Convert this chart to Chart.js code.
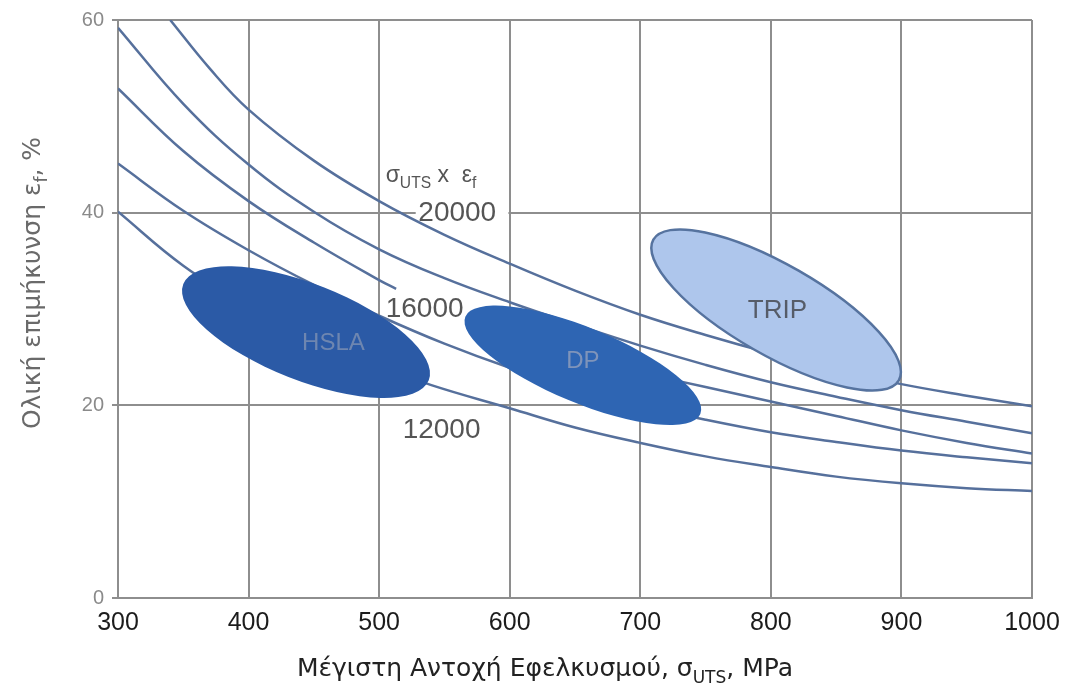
<!DOCTYPE html>
<html lang="el">
<head>
<meta charset="UTF-8">
<title>Ολική επιμήκυνση - Μέγιστη Αντοχή</title>
<script src="https://cdn.jsdelivr.net/npm/chart.js"></script>
<style>
  body { margin: 0; background: #fff; }
</style>
</head>
<body>
<canvas id="chart" width="1074" height="697"></canvas>
<script>
// axes
const xTicks = [300, 400, 500, 600, 700, 800, 900, 1000];
const yTicks = [0, 20, 40, 60];

// lines of constant sUTS x ef (MPa, %)
const uts20000 = [340, 370, 400, 450, 500, 550, 600, 650, 700, 750, 800, 850, 900, 950, 1000];
const elong20000 = [60, 55.0, 50.7, 45.4, 41.2, 37.7, 34.7, 31.9, 29.4, 27.3, 25.4, 23.7, 22.2, 21.0, 19.9];

const uts18000 = [300, 350, 400, 450, 500, 550, 600, 650, 700, 750, 800, 850, 900, 950, 1000];
const elong18000 = [59.2, 51.3, 45.0, 40.1, 36.2, 33.2, 30.7, 28.4, 26.2, 24.2, 22.4, 20.9, 19.5, 18.3, 17.1];

// broken where the "16000" label sits
const uts16000 = [300, 350, 400, 450, 500, 513, 540, 575, 600, 650, 700, 750, 800, 850, 900, 950, 1000];
const elong16000 = [52.9, 46.4, 41.2, 36.9, 33.0, 32.1, null, 28.3, 27.0, 25.0, 23.4, 21.9, 20.4, 18.9, 17.4, 16.1, 15.0];

const uts14000 = [300, 350, 400, 450, 500, 550, 600, 650, 700, 750, 800, 850, 900, 950, 1000];
const elong14000 = [45.1, 40.2, 36.1, 32.5, 29.3, 26.4, 23.9, 21.8, 20.0, 18.5, 17.2, 16.2, 15.3, 14.6, 14.0];

const uts12000 = [300, 350, 400, 450, 500, 540, 600, 650, 700, 750, 800, 850, 900, 950, 1000];
const elong12000 = [40.1, 34.5, 30.3, 26.9, 24.1, 22.1, 19.7, 17.7, 16.1, 14.7, 13.6, 12.6, 11.9, 11.4, 11.1];

// steel families: ends of the long axis of each area and its half thickness (%)
const steelNames = ['HSLA', 'DP', 'TRIP'];
const steelUtsFrom = [350, 566, 710];
const steelElongFrom = [32.6, 29.2, 37.2];
const steelUtsTo = [538, 746, 898];
const steelElongTo = [22.6, 19.1, 22.6];
const steelHalfWidth = [5.0, 3.9, 4.7];

const lineColor = '#56709c';
const gridColor = '#8e8e8e';

function pts(xs, ys) {
    return xs.map(function (x, i) { return { x: x, y: ys[i] }; });
}

function curve(xs, ys) {
    return {
        data: pts(xs, ys),
        borderColor: lineColor,
        borderWidth: 2.5,
        pointRadius: 0,
        fill: false,
        spanGaps: false,
        tension: 0.4
    };
}

// text with subscripts, parts = [[text, isSub], ...]
function richText(ctx, parts, x, y, size, family, color, align) {
    var w = 0;
    parts.forEach(function (p) {
        ctx.font = (p[1] ? size * 0.68 : size) + 'px ' + family;
        w += ctx.measureText(p[0]).width;
    });
    var cx = align === 'center' ? x - w / 2 : (align === 'right' ? x - w : x);
    ctx.textAlign = 'left';
    ctx.textBaseline = 'alphabetic';
    ctx.fillStyle = color;
    parts.forEach(function (p) {
        var s = p[1] ? size * 0.68 : size;
        ctx.font = s + 'px ' + family;
        ctx.fillText(p[0], cx, y + (p[1] ? size * 0.28 : 0));
        cx += ctx.measureText(p[0]).width;
    });
}

const steelColors = ['#2b5aa6', '#2e65b3', '#aec6ec'];
const steelTextColors = ['#6e86b0', '#7f94ba', '#565c68'];
// where the names are written (data coords)
const steelTextAt = [[465, 26.4], [656, 24.6], [805, 29.8]];

const steelAreas = {
    id: 'steelAreas',
    beforeDatasetsDraw: function (chart) {
        // white box behind "20000" hides the grid line there
        var ctx = chart.ctx, xs = chart.scales.x, ys = chart.scales.y;
        ctx.save();
        ctx.fillStyle = '#ffffff';
        ctx.fillRect(xs.getPixelForValue(528), ys.getPixelForValue(40) - 3, xs.getPixelForValue(599) - xs.getPixelForValue(528), 6);
        ctx.restore();
    },
    afterDatasetsDraw: function (chart) {
        var ctx = chart.ctx, xs = chart.scales.x, ys = chart.scales.y;
        var area = chart.chartArea;
        ctx.save();
        ctx.beginPath();
        ctx.rect(area.left, area.top, area.right - area.left, area.bottom - area.top);
        ctx.clip();
        for (var i = 0; i < steelNames.length; i++) {
            var x1 = xs.getPixelForValue(steelUtsFrom[i]), y1 = ys.getPixelForValue(steelElongFrom[i]);
            var x2 = xs.getPixelForValue(steelUtsTo[i]), y2 = ys.getPixelForValue(steelElongTo[i]);
            var a = Math.hypot(x2 - x1, y2 - y1) / 2;
            var b = ys.getPixelForValue(0) - ys.getPixelForValue(steelHalfWidth[i]);
            ctx.beginPath();
            ctx.ellipse((x1 + x2) / 2, (y1 + y2) / 2, a, b, Math.atan2(y2 - y1, x2 - x1), 0, Math.PI * 2);
            ctx.fillStyle = steelColors[i];
            ctx.fill();
            if (steelNames[i] === 'TRIP') {
                ctx.strokeStyle = '#56739f';
                ctx.lineWidth = 2.5;
                ctx.stroke();
            }
        }
        ctx.restore();

        ctx.save();
        ctx.textAlign = 'center';
        ctx.textBaseline = 'middle';
        for (var j = 0; j < steelNames.length; j++) {
            ctx.font = (j === 2 ? 26 : 24) + 'px "Liberation Sans", Arial, sans-serif';
            ctx.fillStyle = steelTextColors[j];
            ctx.fillText(steelNames[j], xs.getPixelForValue(steelTextAt[j][0]), ys.getPixelForValue(steelTextAt[j][1]));
        }
        ctx.restore();
    }
};

const curveTexts = ['20000', '16000', '12000'];
const curveTextAt = [[530, 40], [505, 30.1], [518, 17.5]];

const notes = {
    id: 'notes',
    afterDraw: function (chart) {
        var ctx = chart.ctx, xs = chart.scales.x, ys = chart.scales.y;
        var fam = '"Liberation Sans", Arial, sans-serif';
        ctx.save();
        ctx.textAlign = 'left';
        ctx.textBaseline = 'middle';
        ctx.fillStyle = '#555555';
        ctx.font = '28px ' + fam;
        for (var i = 0; i < curveTexts.length; i++) {
            ctx.fillText(curveTexts[i], xs.getPixelForValue(curveTextAt[i][0]), ys.getPixelForValue(curveTextAt[i][1]) + 1);
        }
        // sUTS x ef
        richText(ctx, [['σ', false], ['UTS', true], [' x  ε', false], ['f', true]],
            xs.getPixelForValue(505), ys.getPixelForValue(43.2), 23, fam, '#555555', 'left');

        // axis titles
        richText(ctx, [['Μέγιστη Αντοχή Εφελκυσμού, σ', false], ['UTS', true], [', MPa', false]],
            545, 676, 25, '"DejaVu Sans", sans-serif', '#222222', 'center');
        ctx.translate(40, 283);
        ctx.rotate(-Math.PI / 2);
        richText(ctx, [['Ολική επιμήκυνση ε', false], ['f', true], [', %', false]],
            0, 0, 25, '"DejaVu Sans", sans-serif', '#6a6a6a', 'center');
        ctx.restore();
    }
};

new Chart(document.getElementById('chart'), {
    type: 'line',
    data: {
        datasets: [
            curve(uts20000, elong20000),
            curve(uts18000, elong18000),
            curve(uts16000, elong16000),
            curve(uts14000, elong14000),
            curve(uts12000, elong12000)
        ]
    },
    options: {
        responsive: false,
        animation: false,
        devicePixelRatio: 1,
        layout: { padding: { left: 0, right: 42, top: 15, bottom: 0 } },
        plugins: { legend: { display: false }, tooltip: { enabled: false } },
        scales: {
            x: {
                type: 'linear',
                min: 300,
                max: 1000,
                afterBuildTicks: function (s) { s.ticks = xTicks.map(function (v) { return { value: v }; }); },
                afterFit: function (s) { s.height = 99; },
                grid: { color: gridColor, lineWidth: 2, drawTicks: false },
                border: { color: gridColor, width: 2 },
                ticks: {
                    padding: 10,
                    color: '#1c1c1c',
                    font: { family: '"Liberation Sans", Arial, sans-serif', size: 25 },
                    callback: function (v) { return String(v); }
                }
            },
            y: {
                min: 0,
                max: 60,
                afterBuildTicks: function (s) { s.ticks = yTicks.map(function (v) { return { value: v }; }); },
                afterFit: function (s) { s.width = 118; },
                grid: { color: gridColor, lineWidth: 2, tickLength: 6 },
                border: { color: gridColor, width: 2 },
                ticks: {
                    padding: 8,
                    color: '#8a8a8a',
                    font: { family: '"Liberation Sans", Arial, sans-serif', size: 20 },
                    callback: function (v) { return String(v); }
                }
            }
        }
    },
    plugins: [steelAreas, notes]
});
</script>
</body>
</html>
